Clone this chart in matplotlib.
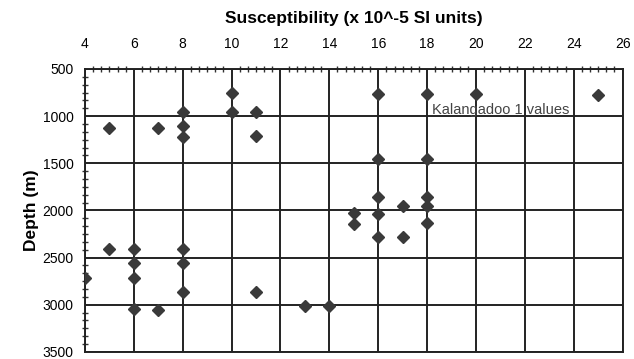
#!/usr/bin/env python3

import matplotlib
matplotlib.use("Agg")
import matplotlib.pyplot as plt
from matplotlib.ticker import AutoMinorLocator

plt.rcParams["font.family"] = ["Liberation Sans", "DejaVu Sans"]

# Kalangadoo 1 magnetic susceptibility readings
susceptibility = [5, 7, 8, 8, 8, 10, 10, 11, 11,
                  16, 18, 20, 25, 16, 18,
                  16, 17, 18, 18, 15, 15, 16, 16, 17, 18,
                  13, 14, 5, 6, 6, 6, 6, 7, 8, 8, 8, 4, 11]
depth_m = [1130, 1130, 960, 1110, 1220, 760, 960, 960, 1210,
           770, 770, 770, 780, 1450, 1460,
           1860, 1950, 1860, 1950, 2030, 2140, 2040, 2280, 2280, 2130,
           3010, 3010, 2410, 2410, 2560, 2720, 3050, 3060, 2410, 2560, 2870, 2720, 2870]

x_ticks = list(range(4, 27, 2))
y_ticks = list(range(500, 3501, 500))

fig = plt.figure(figsize=(6.34, 3.59), dpi=100)
ax = fig.add_axes([0.134, 0.02, 0.848, 0.788])

ax.plot(susceptibility, depth_m, linestyle="none", marker="D", markersize=6.5,
        color="#3a3a3a", zorder=3)

ax.set_xlim(4, 26)
ax.set_ylim(3500, 500)
ax.set_xticks(x_ticks)
ax.set_yticks(y_ticks)
ax.xaxis.set_minor_locator(AutoMinorLocator(6))
ax.yaxis.set_minor_locator(AutoMinorLocator(6))

ax.xaxis.tick_top()
ax.xaxis.set_label_position("top")
ax.tick_params(axis="both", which="major", length=0, labelsize=10, pad=13)
ax.tick_params(axis="y", which="major", pad=8)
ax.tick_params(which="minor", direction="inout", length=4, width=1, color="#333333")
ax.tick_params(axis="x", which="minor", top=True, bottom=False)
ax.tick_params(axis="y", which="minor", left=True, right=False)

ax.grid(True, which="major", color="#222222", linewidth=1.4)
for side in ax.spines.values():
    side.set_color("#222222")
    side.set_linewidth(1.4)

ax.set_xlabel("Susceptibility (x 10^-5 SI units)", fontsize=12.5,
              fontweight="bold", labelpad=10)
ax.set_ylabel("Depth (m)", fontsize=12.5, fontweight="bold", labelpad=3)

ax.text(18.2, 1010, "Kalangadoo 1 values", fontsize=10.5, color="#444444",
        va="bottom", ha="left")

fig.savefig("out.png", dpi=100)
